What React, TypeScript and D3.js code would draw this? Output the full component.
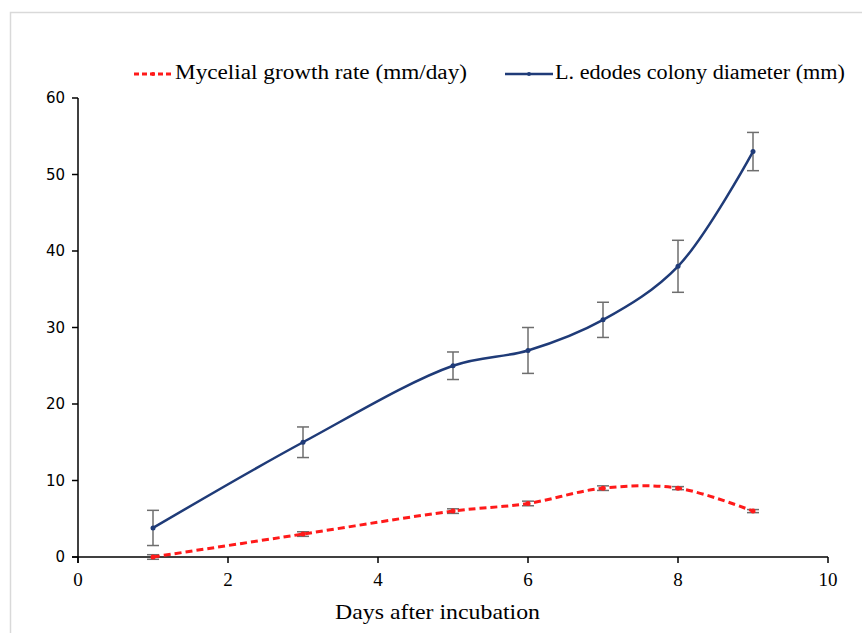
import React from "react";
import * as d3 from "d3";

const days = [1, 3, 5, 6, 7, 8, 9];
const colonyDiameter = [3.8, 15, 25, 27, 31, 38, 53];
const colonyError = [2.3, 2.0, 1.8, 3.0, 2.3, 3.4, 2.5];
const growthRate = [0, 3, 6, 7, 9, 9, 6];
const growthError = [0.3, 0.3, 0.3, 0.3, 0.3, 0.2, 0.2];
const xTicks = [0, 2, 4, 6, 8, 10];
const yTicks = [0, 10, 20, 30, 40, 50, 60];
const seriesNames = ["Mycelial growth rate (mm/day)", "L. edodes colony diameter (mm)"];
const xTitle = "Days after incubation";

const W = 862, H = 633;
const left = 78, right = 828, top = 98, bottom = 557;

export default function App() {
  const x = d3.scaleLinear().domain([0, 10]).range([left, right]);
  const y = d3.scaleLinear().domain([0, 60]).range([bottom, top]);
  const line = d3.line<number>().curve(d3.curveCatmullRom.alpha(0.5));
  const blue = "#1f3b78";
  const red = "#ff1a1a";
  const colonyPts = days.map((d, i) => [x(d), y(colonyDiameter[i])] as [number, number]);
  const growthPts = days.map((d, i) => [x(d), y(growthRate[i])] as [number, number]);
  const errBar = (vals: number[], errs: number[], key: string) =>
    days.map((d, i) => {
      const cx = x(d), y1 = y(vals[i] + errs[i]), y2 = y(vals[i] - errs[i]);
      return (
        <g key={key + i} stroke="#6e6e6e" strokeWidth={1.5}>
          <line x1={cx} x2={cx} y1={y1} y2={y2} />
          <line x1={cx - 6} x2={cx + 6} y1={y1} y2={y1} />
          <line x1={cx - 6} x2={cx + 6} y1={y2} y2={y2} />
        </g>
      );
    });
  return (
    <svg width={W} height={H} style={{ position: "absolute", left: 0, top: 0, background: "#fff" }}>
      <rect x={10.5} y={12.5} width={W} height={H} fill="none" stroke="#d9d9d9" strokeWidth={1.5} />
      {/* axes */}
      <line x1={left} x2={left} y1={top} y2={bottom + 6} stroke="#000" strokeWidth={1.5} />
      <line x1={left - 6} x2={right} y1={bottom} y2={bottom} stroke="#000" strokeWidth={1.5} />
      {yTicks.map((t) => (
        <g key={"y" + t}>
          <line x1={left - 6} x2={left} y1={y(t)} y2={y(t)} stroke="#000" strokeWidth={1.5} />
          <text x={left - 13} y={y(t) + 5} textAnchor="end" fontFamily="DejaVu Sans" fontSize={15} fill="#000">{t}</text>
        </g>
      ))}
      {xTicks.map((t) => (
        <g key={"x" + t}>
          <line x1={x(t)} x2={x(t)} y1={bottom} y2={bottom + 6} stroke="#000" strokeWidth={1.5} />
          <text x={x(t)} y={bottom + 29} textAnchor="middle" fontFamily="Liberation Serif" fontSize={19} fill="#000">{t}</text>
        </g>
      ))}
      <text x={335} y={619} fontFamily="Liberation Serif" fontSize={22} fill="#000" textLength={205} lengthAdjust="spacingAndGlyphs">{xTitle}</text>
      {/* error bars */}
      {errBar(colonyDiameter, colonyError, "c")}
      {errBar(growthRate, growthError, "g")}
      {/* lines */}
      <path d={line(colonyPts as any) || ""} fill="none" stroke={blue} strokeWidth={2.5} />
      <path d={line(growthPts as any) || ""} fill="none" stroke={red} strokeWidth={3} strokeDasharray="7,4" />
      {colonyPts.map((p, i) => <circle key={"cp" + i} cx={p[0]} cy={p[1]} r={2.5} fill={blue} />)}
      {growthPts.map((p, i) => <circle key={"gp" + i} cx={p[0]} cy={p[1]} r={2.5} fill={red} />)}
      {/* legend */}
      <line x1={134} x2={172} y1={74} y2={74} stroke={red} strokeWidth={3} strokeDasharray="5,3" />
      <circle cx={153} cy={74} r={2} fill={red} />
      <text x={175} y={79} fontFamily="Liberation Serif" fontSize={20} fill="#000" textLength={292} lengthAdjust="spacingAndGlyphs">{seriesNames[0]}</text>
      <line x1={505} x2={553} y1={74} y2={74} stroke={blue} strokeWidth={2.5} />
      <circle cx={529} cy={74} r={2} fill={blue} />
      <text x={555} y={79} fontFamily="Liberation Serif" fontSize={20} fill="#000" textLength={290} lengthAdjust="spacingAndGlyphs">{seriesNames[1]}</text>
    </svg>
  );
}
